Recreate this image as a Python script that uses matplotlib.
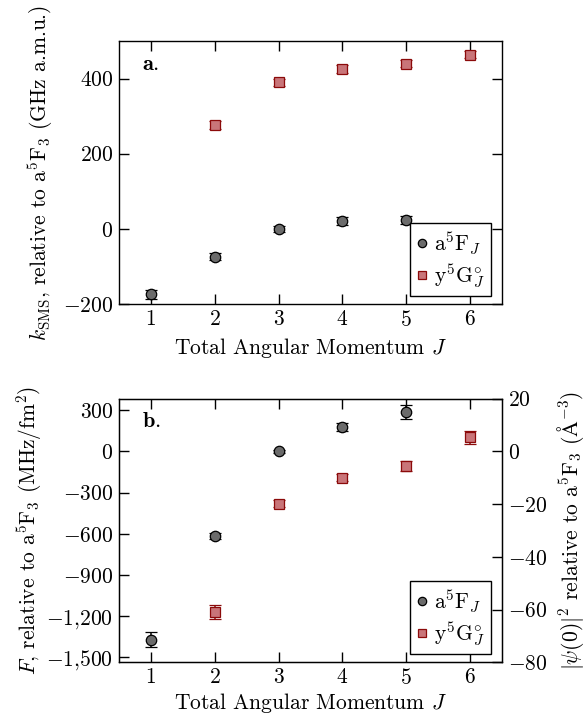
import matplotlib
matplotlib.use("Agg")
import matplotlib.pyplot as plt
from matplotlib.lines import Line2D
from matplotlib.ticker import FixedLocator, FuncFormatter

plt.rcParams['font.family'] = 'serif'
plt.rcParams['font.serif'] = ['cmr10', 'DejaVu Serif']
plt.rcParams['mathtext.fontset'] = 'cm'
plt.rcParams['axes.formatter.use_mathtext'] = True
plt.rcParams['font.size'] = 15

# ---- data ----
J_a = [1, 2, 3, 4, 5]
J_y = [2, 3, 4, 5, 6]
ksms_a = [-174, -74, 0, 21, 24]
ksms_a_err = [12, 10, 8, 10, 10]
ksms_y = [277, 390, 426, 440, 464]
ksms_y_err = [10, 10, 10, 10, 10]

F_a = [-1372, -616, 0, 180, 285]
F_a_err = [55, 22, 8, 28, 50]
F_y = [-1171, -380, -193, -105, 102]
F_y_err = [50, 25, 25, 35, 50]

factor = 19.2  # MHz/fm^2 per A^-3 (right axis scale)

top_yticks = [-200, 0, 200, 400]
bot_yticks = [-1500, -1200, -900, -600, -300, 0, 300]
right_yticks = [-80, -60, -40, -20, 0, 20]
xticks = [1, 2, 3, 4, 5, 6]

lab_a = r"a$^5$F$_J$"
lab_y = r"y$^5$G$^{\circ}_J$"

gray_fc = '#6b6b6b'
red_fc = '#c97579'
red_ec = '#8b0a0a'

TICK_FS = 15.5
LAB_FS = 15.5

W, H = 587, 715
fig = plt.figure(figsize=(W / 100, H / 100), dpi=100)
ax1 = fig.add_axes([119 / W, 1 - 304 / H, 383 / W, 263 / H])
ax2 = fig.add_axes([119 / W, 1 - 662.3 / H, 383 / W, 263.6 / H])


def fmt(v, pos):
    s = f"{abs(int(round(v))):,}".replace(",", "{,}")
    return ("$-" if v < 0 else "$") + s + "$"


def style(ax, lp):
    ax.tick_params(direction='in', top=True, right=True, length=7, width=1,
                   labelsize=TICK_FS, pad=4)
    for sp in ax.spines.values():
        sp.set_linewidth(1)
    ax.set_xlim(0.5, 6.5)
    ax.xaxis.set_major_locator(FixedLocator(xticks))
    ax.set_xlabel(r"Total Angular Momentum $J$", fontsize=LAB_FS, labelpad=lp)


def draw(ax, ya, yae, yy, yye):
    ax.errorbar(J_a, ya, yerr=yae, fmt='o', ms=7.5, mfc=gray_fc, mec='black',
                mew=0.9, ecolor='black', elinewidth=1.1, capsize=4.5,
                capthick=1.1, zorder=3)
    ax.errorbar(J_y, yy, yerr=yye, fmt='s', ms=7.5, mfc=red_fc, mec=red_ec,
                mew=0.9, ecolor=red_ec, elinewidth=1.1, capsize=4.5,
                capthick=1.1, zorder=3)
    handles = [
        Line2D([], [], ls='none', marker='o', ms=6, mfc=gray_fc, mec='black', mew=0.9),
        Line2D([], [], ls='none', marker='s', ms=6, mfc=red_fc, mec=red_ec, mew=0.9),
    ]
    bb = ax.get_window_extent()
    leg = ax.legend(handles, [lab_a, lab_y], loc='lower right', fancybox=False,
                    framealpha=1, edgecolor='black', fontsize=15.5,
                    handlelength=0.5, handletextpad=0.3, borderpad=0.3,
                    labelspacing=0.25, borderaxespad=0,
                    bbox_to_anchor=(1 - 11 / bb.width, 8 / bb.height))
    leg.get_frame().set_linewidth(1)


# ---- top panel ----
style(ax1, 5)
draw(ax1, ksms_a, ksms_a_err, ksms_y, ksms_y_err)
ax1.set_ylim(-200, 500)
ax1.yaxis.set_major_locator(FixedLocator(top_yticks))
ax1.yaxis.set_major_formatter(FuncFormatter(fmt))
ax1.set_ylabel(r"$k_{\mathrm{SMS}}$, relative to a$^5$F$_3$ (GHz a.m.u.)",
               fontsize=LAB_FS, labelpad=6)
ax1.text(0.06, 0.95, r"$\mathbf{a.}$", transform=ax1.transAxes,
         va='top', ha='left', fontsize=16)

# ---- bottom panel ----
style(ax2, 2)
draw(ax2, F_a, F_a_err, F_y, F_y_err)
ax2.set_ylim(-80 * factor, 20 * factor)
ax2.yaxis.set_major_locator(FixedLocator(bot_yticks))
ax2.yaxis.set_major_formatter(FuncFormatter(fmt))
ax2.tick_params(axis='y', right=False)
ax2.set_ylabel(r"$F$, relative to a$^5$F$_3$ (MHz/fm$^2$)", fontsize=LAB_FS,
               labelpad=2)
ax2.text(0.06, 0.95, r"$\mathbf{b.}$", transform=ax2.transAxes,
         va='top', ha='left', fontsize=16)

axr = ax2.twinx()
axr.set_ylim(-80, 20)
axr.yaxis.set_major_locator(FixedLocator(right_yticks))
axr.yaxis.set_major_formatter(FuncFormatter(fmt))
axr.tick_params(direction='in', length=7, width=1, labelsize=TICK_FS, pad=4)
axr.set_ylabel(r"$|\psi(0)|^2$ relative to a$^5$F$_3$ ($\mathrm{\AA}^{-3}$)",
               fontsize=LAB_FS, labelpad=6)

fig.savefig("out.png", dpi=100)
